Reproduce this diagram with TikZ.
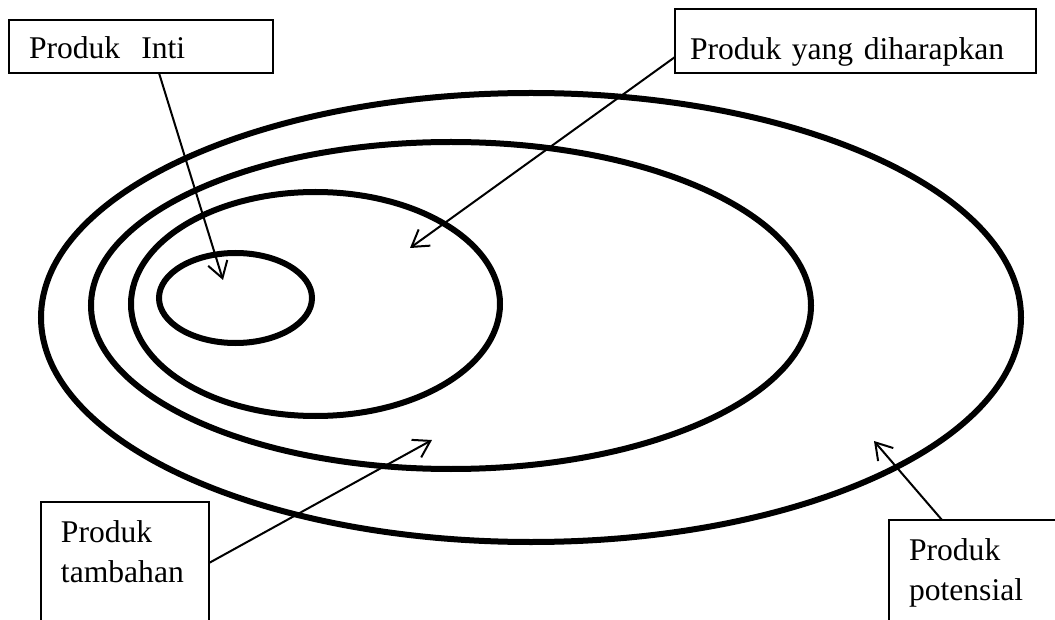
\documentclass[tikz,border=0pt]{standalone}
\usepackage{fontspec}
\setmainfont{Liberation Serif}
\usetikzlibrary{arrows.meta,positioning}

\begin{document}
\begin{tikzpicture}[x=0.5pt,y=-0.5pt,>={Straight Barb[length=8pt,width=10pt]},
    font=\fontsize{15.8}{20}\selectfont,
    ring/.style={line width=3pt},
    tag/.style={draw,line width=0.65pt,anchor=north west,align=left,
      inner ysep=0pt,outer sep=0pt},
    pointer/.style={->,line width=1pt}]
  \useasboundingbox (0,0) rectangle (1055,620);
  \clip (0,0) rectangle (1055,620);

  \draw[ring] (531,317.5) ellipse [x radius=490, y radius=224.5];
  \draw[ring] (451,305.5) ellipse [x radius=360, y radius=163.5];
  \draw[ring] (315.5,304) ellipse [x radius=184.5, y radius=112];
  \draw[ring] (235.5,298) ellipse [x radius=76.5, y radius=45];

  \node[tag,inner xsep=10pt,text width=112pt,text height=19.5pt,text depth=7pt]
    (inti) at (9,20) {Produk\ \ Inti};
  \node[tag,inner xsep=7.5pt,text width=165.5pt,text height=25.5pt,text depth=6.5pt]
    (harap) at (675,9) {Produk yang diharapkan};
  \node[tag,inner xsep=10pt,text width=64pt,text height=20pt,text depth=49pt]
    (tambah) at (41,502) {Produk\\tambahan};
  \node[tag,inner xsep=10pt,text width=70.5pt,text height=20pt,text depth=40pt]
    (potens) at (889,520) {Produk\\potensial};

  \coordinate (tInti) at (223,280);
  \coordinate (tHarap) at (410,248);
  \coordinate (tTambah) at (432,440);
  \coordinate (tPotens) at (874,441);

  \draw[pointer] ([xshift=9pt]inti.south) -- (tInti);
  \draw[pointer] ([yshift=-8pt]harap.west) -- (tHarap);
  \draw[pointer] ([yshift=-30.5pt]tambah.north east) -- (tTambah);
  \draw[pointer] ([xshift=26.5pt]potens.north west) -- (tPotens);
\end{tikzpicture}
\end{document}
